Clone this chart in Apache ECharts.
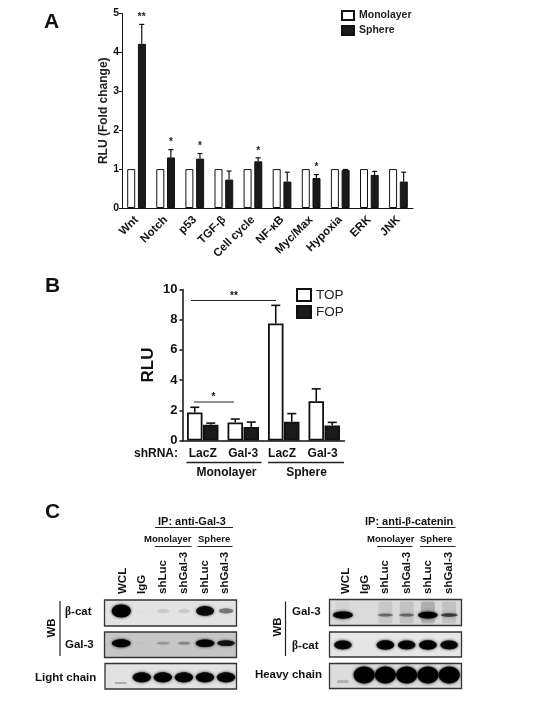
<!DOCTYPE html>
<html>
<head>
<meta charset="utf-8">
<style>
  html, body { margin: 0; padding: 0; background: #fff; }
  #chart { width: 550px; height: 721px; }
</style>
<script src="https://cdn.jsdelivr.net/npm/echarts@6/dist/echarts.min.js"></script>
</head>
<body>
<div id="chart"></div>
<script>
// panel A
const pathways = ['Wnt', 'Notch', 'p53', 'TGF-β', 'Cell cycle', 'NF-κB', 'Myc/Max', 'Hypoxia', 'ERK', 'JNK']
const monolayer = [1, 1, 1, 1, 1, 1, 1, 1, 1, 1]
const sphere = [4.22, 1.3, 1.27, 0.73, 1.2, 0.68, 0.77, 0.98, 0.85, 0.68]
const sphereTop = [4.72, 1.5, 1.4, 0.95, 1.29, 0.92, 0.86, 0.99, 0.94, 0.92]
const sphereStars = ['**', '*', '*', '', '*', '', '*', '', '', '']

// panel B
const shrna = ['LacZ', 'Gal-3', 'LacZ ', 'Gal-3 ']
const top_ = [1.85, 1.2, 7.75, 2.6]
const topTop = [2.2, 1.42, 8.95, 3.42]
const fop = [1.05, 0.9, 1.25, 1.0]
const fopTop = [1.15, 1.22, 1.78, 1.2]

// blots: band strength per lane (WCL, IgG, shLuc, shGal-3, shLuc, shGal-3)
const leftBetaCat = [1, 0.01, 0.1, 0.1, 0.85, 0.4]
const leftGal3 = [0.97, 0.02, 0.22, 0.28, 0.95, 0.8]
const leftLight = [0, 0.92, 0.92, 0.92, 0.92, 0.92]
const leftLightFaint = [0.22, 0, 0, 0, 0, 0]
const rightGal3 = [0.97, 0, 0.42, 0.42, 0.95, 0.6]
const rightGal3Smear = [0.03, 0, 0.08, 0.1, 0.18, 0.1]
const rightBetaCat = [0.92, 0, 0.95, 0.92, 0.95, 0.92]
const rightHeavy = [0, 1, 1, 1, 1, 1]
const rightHeavyFaint = [0.18, 0, 0, 0, 0, 0]

const FONT = '"Liberation Sans", Arial, sans-serif'
const myChart = echarts.init(document.getElementById('chart'))

// error bar with cap and optional star text
function errorBars(capWidth, lineW, stars, starSize) {
  return function (params, api) {
    const i = api.value(0)
    const base = api.coord([i, api.value(1)])
    const end = api.coord([i, api.value(2)])
    const x = base[0] + api.value(3)
    const children = [
      { type: 'line', shape: { x1: x, y1: base[1], x2: x, y2: end[1] }, style: { stroke: '#111', lineWidth: lineW } },
      { type: 'line', shape: { x1: x - capWidth / 2, y1: end[1], x2: x + capWidth / 2, y2: end[1] }, style: { stroke: '#111', lineWidth: lineW } }
    ]
    if (stars && stars[i]) {
      children.push({
        type: 'text',
        style: { x: x, y: end[1] - 7, text: stars[i], align: 'center', verticalAlign: 'middle', font: 'bold ' + starSize + 'px ' + FONT, fill: '#222' }
      })
    }
    return { type: 'group', children }
  }
}

function errorSeries(grid, values, tops, offset, capWidth, lineW, stars, starSize) {
  return {
    type: 'custom',
    xAxisIndex: grid,
    yAxisIndex: grid,
    z: 1,
    renderItem: errorBars(capWidth, lineW, stars, starSize),
    data: values.map((v, i) => [i, v, tops[i], offset]),
    encode: { x: 0, y: [1, 2] },
    silent: true
  }
}

// blot bands, one per lane. weak bands get smaller
function blotSeries(grid, strengths, bandY, rx, ry) {
  return {
    type: 'custom',
    xAxisIndex: grid,
    yAxisIndex: grid,
    clip: true,
    silent: true,
    renderItem(params, api) {
      const c = api.coord([api.value(0), bandY])
      const s = api.value(1)
      return {
        type: 'ellipse',
        shape: { cx: c[0], cy: c[1], rx: rx * (0.6 + 0.4 * s), ry: ry * (0.35 + 0.65 * s * s * s) },
        style: { fill: 'rgba(0,0,0,' + s + ')', shadowBlur: 3, shadowColor: 'rgba(0,0,0,' + s + ')' }
      }
    },
    data: strengths.map((s, i) => [i, s])
  }
}

// soft background marks: smears and very faint bands
function smearSeries(grid, strengths, bandY, halfW, halfH, blur) {
  return {
    type: 'custom',
    xAxisIndex: grid,
    yAxisIndex: grid,
    clip: true,
    silent: true,
    renderItem(params, api) {
      const c = api.coord([api.value(0), bandY])
      const s = api.value(1)
      return {
        type: 'rect',
        shape: { x: c[0] - halfW, y: c[1] - halfH, width: halfW * 2, height: halfH * 2, r: 2 },
        style: { fill: 'rgba(0,0,0,' + s + ')', shadowBlur: blur, shadowColor: 'rgba(0,0,0,' + s + ')' }
      }
    },
    data: strengths.map((s, i) => [i, s])
  }
}

function blotGrid(left, top, width, height, bg) {
  return { left, top, width, height, show: true, backgroundColor: bg, borderColor: '#333', borderWidth: 1.3 }
}
const hiddenX = (min, max, gridIndex) => ({ type: 'value', gridIndex, min, max, show: false })
const hiddenY = (gridIndex) => ({ type: 'value', gridIndex, min: 0, max: 1, show: false })

function label(x, y, text, size, extra) {
  return {
    type: 'text', x, y, rotation: (extra && extra.rot) || 0,
    style: Object.assign({
      text, align: 'left', verticalAlign: 'middle', fill: '#111',
      font: 'bold ' + size + 'px ' + FONT,
      rich: { s: { fontFamily: '"Liberation Serif", serif', fontWeight: 'bold', fontSize: size, fill: '#111' } }
    }, extra && extra.style)
  }
}
function rule(x1, y1, x2, y2, w) {
  return { type: 'line', shape: { x1, y1, x2, y2 }, style: { stroke: '#222', lineWidth: w || 1 } }
}
const laneLabel = (x, text) => label(x, 594, text, 11.5, { rot: Math.PI / 2 })

const option = {
  backgroundColor: '#fff',
  animation: false,
  textStyle: { fontFamily: FONT },
  legend: [
    {
      data: ['Monolayer', 'Sphere'], left: 341, top: 10, orient: 'vertical', icon: 'rect',
      itemWidth: 12, itemHeight: 9, itemGap: 4, padding: 0,
      textStyle: { fontSize: 10.5, fontWeight: 'bold', color: '#222' }
    },
    {
      data: ['TOP', 'FOP'], left: 296, top: 288, orient: 'vertical', icon: 'rect',
      itemWidth: 14, itemHeight: 12, itemGap: 3, padding: 0,
      textStyle: { fontSize: 13.5, color: '#222' }
    }
  ],
  grid: [
    { left: 122, top: 13.5, width: 291, height: 194.5 },
    { left: 182.5, top: 289.5, width: 162, height: 151 },
    blotGrid(104.5, 600, 132, 26, '#e3e3e3'),
    blotGrid(104.5, 632, 132, 25.5, '#c6c6c6'),
    blotGrid(105, 663.5, 131.5, 25.5, '#e2e2e2'),
    blotGrid(329.5, 599.5, 132, 26, '#dadada'),
    blotGrid(329.5, 632, 132, 25, '#e6e6e6'),
    blotGrid(329.5, 663.5, 132, 25, '#dcdcdc')
  ],
  xAxis: [
    {
      type: 'category', gridIndex: 0, data: pathways,
      axisLine: { lineStyle: { color: '#111', width: 1 } },
      axisTick: { length: 3, alignWithLabel: true, lineStyle: { color: '#111' } },
      axisLabel: { rotate: 45, interval: 0, fontSize: 11.5, fontWeight: 'bold', color: '#111', margin: 10 }
    },
    {
      type: 'category', gridIndex: 1, data: shrna,
      axisLine: { lineStyle: { color: '#111', width: 1.5 } },
      axisTick: { length: 3, alignWithLabel: true, lineStyle: { color: '#111', width: 1.5 } },
      axisLabel: { interval: 0, fontSize: 12, fontWeight: 'bold', color: '#111', margin: 7 }
    },
    hiddenX(-0.8, 5.5, 2), hiddenX(-0.8, 5.5, 3), hiddenX(-0.75, 5.5, 4),
    hiddenX(-0.63, 5.58, 5), hiddenX(-0.63, 5.58, 6), hiddenX(-0.63, 5.58, 7)
  ],
  yAxis: [
    {
      type: 'value', gridIndex: 0, min: 0, max: 5, interval: 1,
      name: 'RLU (Fold change)', nameLocation: 'middle', nameGap: 12, nameMoveOverlap: false,
      nameTextStyle: { fontSize: 12, fontWeight: 'bold', color: '#222' },
      splitLine: { show: false },
      axisLine: { show: true, lineStyle: { color: '#111', width: 1 } },
      axisTick: { show: true, length: 3, lineStyle: { color: '#111' } },
      axisLabel: { fontSize: 10.5, fontWeight: 'bold', color: '#111', margin: 3 }
    },
    {
      type: 'value', gridIndex: 1, min: 0, max: 10, interval: 2,
      name: 'RLU', nameLocation: 'middle', nameGap: 26, nameMoveOverlap: false,
      nameTextStyle: { fontSize: 17, fontWeight: 'bold', color: '#111' },
      splitLine: { show: false },
      axisLine: { show: true, lineStyle: { color: '#111', width: 1.5 } },
      axisTick: { show: true, length: 3, lineStyle: { color: '#111', width: 1.5 } },
      axisLabel: { fontSize: 13, fontWeight: 'bold', color: '#111', margin: 5 }
    },
    hiddenY(2), hiddenY(3), hiddenY(4), hiddenY(5), hiddenY(6), hiddenY(7)
  ],
  series: [
    {
      name: 'Monolayer', type: 'bar', xAxisIndex: 0, yAxisIndex: 0, data: monolayer, barWidth: 8, barGap: '34%',
      itemStyle: { color: '#fff', borderColor: '#111', borderWidth: 1 }
    },
    {
      name: 'Sphere', type: 'bar', xAxisIndex: 0, yAxisIndex: 0, data: sphere, barWidth: 8,
      itemStyle: { color: '#1a1a1a', borderColor: '#111', borderWidth: 1 }
    },
    errorSeries(0, sphere, sphereTop, 5.2, 5, 1.2, sphereStars, 10),
    {
      name: 'TOP', type: 'bar', xAxisIndex: 1, yAxisIndex: 1, data: top_, barWidth: 15.5, barGap: '3%',
      itemStyle: { color: '#fff', borderColor: '#111', borderWidth: 1.8 }
    },
    {
      name: 'FOP', type: 'bar', xAxisIndex: 1, yAxisIndex: 1, data: fop, barWidth: 15.5,
      itemStyle: { color: '#1a1a1a', borderColor: '#111', borderWidth: 1.8 }
    },
    errorSeries(1, top_, topTop, -8, 9, 1.6),
    errorSeries(1, fop, fopTop, 8, 9, 1.6),
    blotSeries(2, leftBetaCat, 0.58, 9.5, 6.5),
    blotSeries(3, leftGal3, 0.56, 9.5, 4.2),
    smearSeries(4, leftLightFaint, 0.24, 6, 1, 3),
    blotSeries(4, leftLight, 0.46, 9.5, 6),
    smearSeries(5, rightGal3Smear, 0.5, 7, 11, 8),
    blotSeries(5, rightGal3, 0.4, 10, 3.8),
    blotSeries(6, rightBetaCat, 0.48, 9, 5.2),
    smearSeries(7, rightHeavyFaint, 0.28, 6, 1.5, 3),
    blotSeries(7, rightHeavy, 0.54, 10.5, 8.5)
  ],
  graphic: { elements: [
    label(44, 22, 'A', 21),
    label(45, 286, 'B', 21),
    label(45, 512, 'C', 21),

    // panel B annotations
    rule(191, 300.5, 276, 300.5, 1),
    label(234, 296.5, '**', 10, { style: { align: 'center' } }),
    rule(194, 402, 234, 402, 1),
    label(213.5, 397.5, '*', 10, { style: { align: 'center' } }),
    label(134, 454, 'shRNA:', 12),
    rule(186.5, 462.5, 261.5, 462.5, 1.5),
    rule(268, 462.5, 344, 462.5, 1.5),
    label(226.5, 472.5, 'Monolayer', 12, { style: { align: 'center' } }),
    label(306.5, 472.5, 'Sphere', 12, { style: { align: 'center' } }),

    // left blot
    label(158, 522, 'IP: anti-Gal-3', 11),
    rule(155, 527.5, 233, 527.5, 1),
    label(144, 539, 'Monolayer', 9.5),
    label(198, 539, 'Sphere', 9.5),
    rule(155, 546.5, 191.5, 546.5, 1.2),
    rule(197.5, 546.5, 232.5, 546.5, 1.2),
    laneLabel(122.5, 'WCL'), laneLabel(142, 'IgG'), laneLabel(163, 'shLuc'),
    laneLabel(184, 'shGal-3'), laneLabel(205, 'shLuc'), laneLabel(225, 'shGal-3'),
    label(52, 628, 'WB', 11.5, { rot: Math.PI / 2, style: { align: 'center' } }),
    rule(60, 601, 60, 656, 1.2),
    label(65, 612, '{s|β}-cat', 11.5),
    label(65, 645, 'Gal-3', 11.5),
    label(35, 678, 'Light chain', 11.5),

    // right blot
    label(365, 521.5, 'IP: anti-{s|β}-catenin', 11),
    rule(377, 527.5, 455.5, 527.5, 1),
    label(367, 539, 'Monolayer', 9.5),
    label(420, 539, 'Sphere', 9.5),
    rule(377, 546.5, 412.5, 546.5, 1.2),
    rule(420, 546.5, 455.5, 546.5, 1.2),
    laneLabel(346, 'WCL'), laneLabel(365, 'IgG'), laneLabel(385, 'shLuc'),
    laneLabel(407, 'shGal-3'), laneLabel(428, 'shLuc'), laneLabel(449, 'shGal-3'),
    label(278, 627, 'WB', 11.5, { rot: Math.PI / 2, style: { align: 'center' } }),
    rule(285.5, 601.5, 285.5, 656, 1.2),
    label(292, 612, 'Gal-3', 11.5),
    label(292, 646, '{s|β}-cat', 11.5),
    label(322, 675, 'Heavy chain', 11.5, { style: { align: 'right' } })
  ] }
}
myChart.setOption(option)
</script>
</body>
</html>
